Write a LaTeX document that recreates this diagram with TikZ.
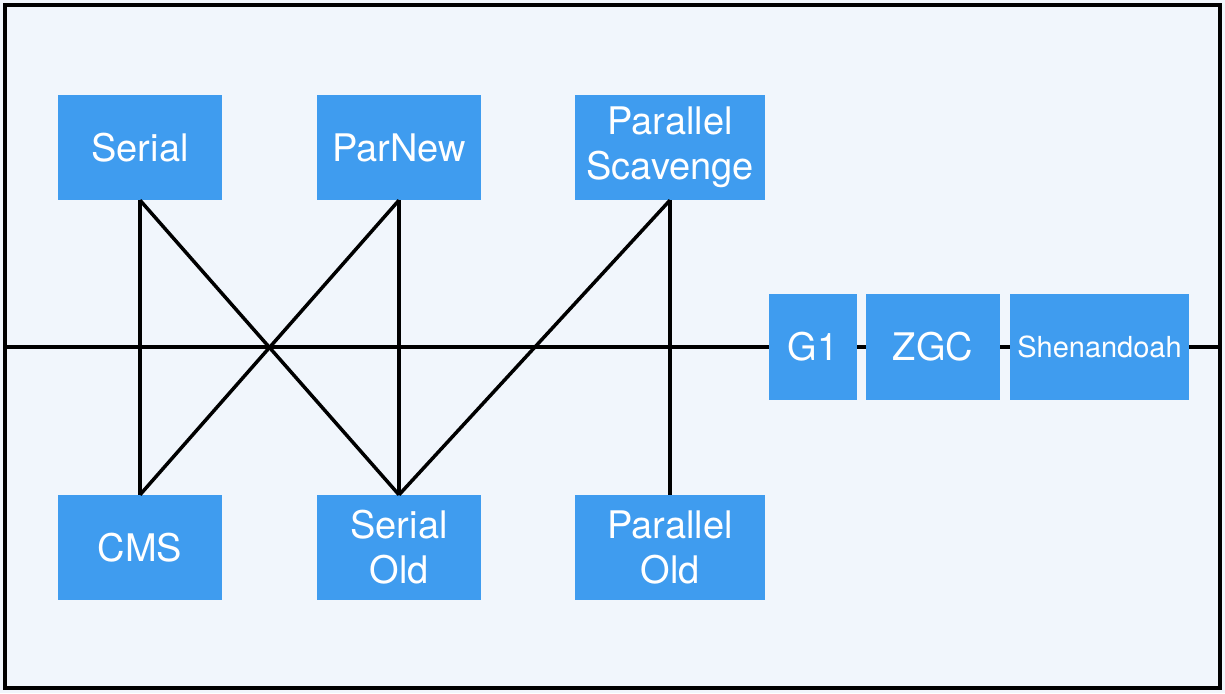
\documentclass[tikz,border=0pt]{standalone}
\usepackage{fontspec}
\setmainfont{TeX Gyre Heros}
\usetikzlibrary{positioning}
\definecolor{gcblue}{HTML}{3F9CEF}
\definecolor{paper}{HTML}{F1F6FC}
\tikzset{
	gcbox/.style={fill=gcblue, text=white, inner sep=0pt, align=center,
		minimum height=105, font=\fontsize{38}{45}\selectfont},
	wire/.style={line width=3.5pt, color=black},
}

\begin{document}
\begin{tikzpicture}[x=1pt, y=-1pt]
			%%%%% START %%%%%
			\useasboundingbox (0, 0) rectangle (1225, 693);
			\fill[paper] (0, 0) rectangle (1225, 693);
			\draw[wire] (5, 5) rectangle (1220, 688);
			
			\coordinate (left) at (5, 347);
			\coordinate (right) at (1220, 347);
			\draw[wire] (left) -- (right);
			
			% young generation
			\node[gcbox, minimum width=164] (serial) at (140, 147.5) {Serial};
			\node[gcbox, minimum width=164] (parnew) at (399, 147.5) {ParNew};
			\node[gcbox, minimum width=190] (pscav) at (670, 147.5) {Parallel\\Scavenge};
			
			% old generation
			\node[gcbox, minimum width=164] (cms) at (140, 547.5) {CMS};
			\node[gcbox, minimum width=164] (serialold) at (399, 547.5) {Serial\\Old};
			\node[gcbox, minimum width=190] (parold) at (670, 547.5) {Parallel\\Old};
			
			% whole heap
			\node[gcbox, minimum width=88, minimum height=106] (g1) at (813, 347) {G1};
			\node[gcbox, minimum width=134, minimum height=106] (zgc) at (933, 347) {ZGC};
			\node[gcbox, minimum width=179, minimum height=106, font=\fontsize{29}{34}\selectfont] (shen) at (1099.5, 347) {Shenandoah};
			
			\draw[wire] (serial.south) -- (cms.north);
			\draw[wire] (serial.south) -- (serialold.north);
			\draw[wire] (parnew.south) -- (cms.north);
			\draw[wire] (parnew.south) -- (serialold.north);
			\draw[wire] (pscav.south) -- (serialold.north);
			\draw[wire] (pscav.south) -- (parold.north);
			%%%%% END %%%%%
\end{tikzpicture}
\end{document}
